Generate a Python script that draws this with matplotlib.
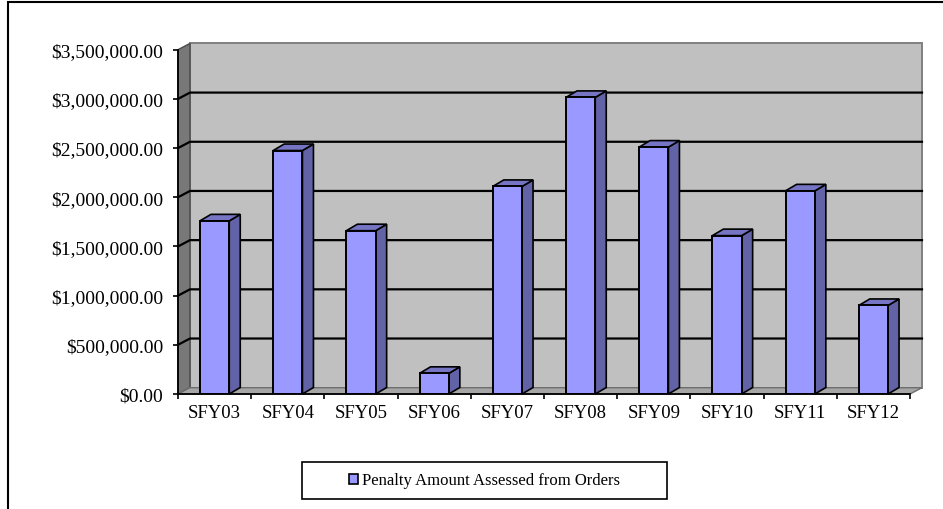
import matplotlib
matplotlib.use("Agg")
import matplotlib.pyplot as plt
import numpy as np
from matplotlib.patches import Polygon, Rectangle, Patch
from matplotlib.ticker import FuncFormatter, FixedLocator

# data
years = ["SFY03", "SFY04", "SFY05", "SFY06", "SFY07",
         "SFY08", "SFY09", "SFY10", "SFY11", "SFY12"]
penalty = [1760000, 2475000, 1660000, 210000, 2110000,
           3015000, 2510000, 1610000, 2065000, 900000]
series_name = "Penalty Amount Assessed from Orders"

plt.rcParams["font.family"] = ["Liberation Serif", "DejaVu Serif"]

W, H = 943, 510
fig = plt.figure(figsize=(W / 100, H / 100), dpi=100)
ax = fig.add_axes([178 / W, 1 - 395 / H, (910 - 178) / W, (395 - 50.7) / H])

n = len(years)
ymax = 3500000
ax.set_xlim(0, n)
ax.set_ylim(0, ymax)
ax.set_facecolor("none")

# fake 3d depth, in data units
dx = 12 * n / 732
dy = 6.3 * ymax / 344.3
bw = 0.4
bdx, bdy = 11 * n / 732, 6.5 * ymax / 344.3

kw = dict(clip_on=False)
# back wall, left wall, floor
ax.add_patch(Polygon([(dx, dy), (n + dx, dy), (n + dx, ymax + dy), (dx, ymax + dy)],
                     closed=True, facecolor="#c0c0c0", edgecolor="#808080", lw=1.4, zorder=1, **kw))
ax.add_patch(Polygon([(0, 0), (dx, dy), (dx, ymax + dy), (0, ymax)],
                     closed=True, facecolor="#787878", edgecolor="#4a4a4a", lw=1, zorder=2, **kw))
ax.add_patch(Polygon([(0, 0), (n, 0), (n + dx, dy), (dx, dy)],
                     closed=True, facecolor="#a6a6a6", edgecolor="#6e6e6e", lw=1, zorder=2, **kw))

ticks = np.arange(0, ymax + 1, 500000)
for v in ticks[1:-1]:
    ax.plot([0, dx, n + dx], [v, v + dy, v + dy], color="black", lw=1.6, zorder=3, **kw)

# bars: front, side, top
for i, v in enumerate(penalty):
    x0 = i + 0.5 - bw / 2
    x1 = i + 0.5 + bw / 2
    ax.add_patch(Polygon([(x1, 0), (x1 + bdx, bdy), (x1 + bdx, v + bdy), (x1, v)],
                         closed=True, facecolor="#6262a6", edgecolor="black", lw=1.2, zorder=4, **kw))
    ax.add_patch(Polygon([(x0, v), (x0 + bdx, v + bdy), (x1 + bdx, v + bdy), (x1, v)],
                         closed=True, facecolor="#7575c4", edgecolor="black", lw=1.2, zorder=4, **kw))
    ax.add_patch(Rectangle((x0, 0), bw, v, facecolor="#9999ff", edgecolor="black", lw=1.4, zorder=5))

for s in ["top", "right"]:
    ax.spines[s].set_visible(False)
for s in ["left", "bottom"]:
    ax.spines[s].set_linewidth(1.3)
    ax.spines[s].set_zorder(6)

ax.set_yticks(ticks)
ax.yaxis.set_major_formatter(FuncFormatter(lambda v, p: "${:,.2f}".format(v)))
ax.tick_params(axis="y", length=3.6, width=1.2, pad=7, labelsize=14)

ax.xaxis.set_major_locator(FixedLocator(np.arange(0, n + 1)))
ax.xaxis.set_minor_locator(FixedLocator(np.arange(n) + 0.5))
ax.set_xticklabels([], minor=False)
ax.set_xticklabels(years, minor=True)
ax.tick_params(axis="x", which="major", length=3.6, width=1.2)
ax.tick_params(axis="x", which="minor", length=0, pad=7, labelsize=13.5)

# legend box
fig.add_artist(Rectangle((302 / W, 1 - 500 / H), 365 / W, 37 / H, transform=fig.transFigure,
                         facecolor="white", edgecolor="black", lw=1.2))
fig.legend(handles=[Patch(facecolor="#9999ff", edgecolor="black", lw=1.2, label=series_name)],
           loc="center", bbox_to_anchor=(484.5 / W, 1 - 481.5 / H), frameon=False,
           fontsize=12, handlelength=0.55, handleheight=0.55, handletextpad=0.25)

# outer chart border
fig.add_artist(Rectangle((8 / W, -0.1), 1.2, 1.1 - 3 / H, transform=fig.transFigure,
                         facecolor="none", edgecolor="black", lw=1.5, clip_on=False))

fig.savefig("out.png", dpi=100)
